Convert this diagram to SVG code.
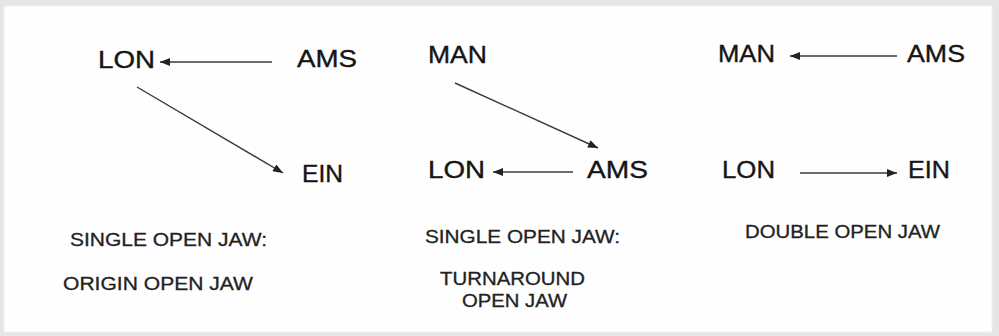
<svg xmlns="http://www.w3.org/2000/svg" width="999" height="336" viewBox="0 0 999 336">
<defs>
<style>
.big{font-family:"Liberation Sans",Arial,sans-serif;font-size:23px;fill:#151515;stroke:#151515;stroke-width:0.35;}
.small{font-family:"Liberation Sans",Arial,sans-serif;font-size:18.5px;fill:#222;stroke:#222;stroke-width:0.3;}
.edge{stroke:#3a3a3a;stroke-width:1.4;fill:none;marker-end:url(#ah);}
</style>
<marker id="ah" viewBox="0 0 10 8" refX="10" refY="4" markerWidth="11" markerHeight="8" markerUnits="userSpaceOnUse" orient="auto">
<path d="M0,0 L10,4 L0,8 Z" fill="#222"/>
</marker>
</defs>
<rect x="0" y="0" width="999" height="336" fill="#e4e6e7"/>
<rect x="4" y="6" width="988" height="326" fill="#fefefe" stroke="#f0f0f0" stroke-width="1"/>

<g id="connectors">
<line class="edge" x1="272" y1="62" x2="160" y2="62"/>
<line class="edge" x1="137" y1="87" x2="283" y2="173"/>
<line class="edge" x1="455" y1="83" x2="598" y2="148"/>
<line class="edge" x1="573" y1="172" x2="493" y2="172"/>
<line class="edge" x1="897" y1="56" x2="790" y2="56"/>
<line class="edge" x1="800" y1="173" x2="897" y2="173"/>
</g>

<g id="p1-lon"><text class="big" x="98" y="68" textLength="57" lengthAdjust="spacingAndGlyphs">LON</text></g>
<g id="p1-ams"><text class="big" x="297" y="67" textLength="60" lengthAdjust="spacingAndGlyphs">AMS</text></g>
<g id="p1-ein"><text class="big" x="302" y="182" textLength="41" lengthAdjust="spacingAndGlyphs">EIN</text></g>

<g id="p2-man"><text class="big" x="428" y="63" textLength="59" lengthAdjust="spacingAndGlyphs">MAN</text></g>
<g id="p2-lon"><text class="big" x="428" y="178" textLength="57" lengthAdjust="spacingAndGlyphs">LON</text></g>
<g id="p2-ams"><text class="big" x="587" y="178" textLength="61" lengthAdjust="spacingAndGlyphs">AMS</text></g>

<g id="p3-man"><text class="big" x="718" y="62" textLength="57" lengthAdjust="spacingAndGlyphs">MAN</text></g>
<g id="p3-ams"><text class="big" x="907" y="62" textLength="58" lengthAdjust="spacingAndGlyphs">AMS</text></g>
<g id="p3-lon"><text class="big" x="722" y="178" textLength="53" lengthAdjust="spacingAndGlyphs">LON</text></g>
<g id="p3-ein"><text class="big" x="908" y="178" textLength="42" lengthAdjust="spacingAndGlyphs">EIN</text></g>

<g id="caption1">
<text class="small" x="70" y="246" textLength="197" lengthAdjust="spacingAndGlyphs">SINGLE OPEN JAW:</text>
<text class="small" x="63" y="290" textLength="190" lengthAdjust="spacingAndGlyphs">ORIGIN OPEN JAW</text>
</g>
<g id="caption2">
<text class="small" x="425" y="243" textLength="195" lengthAdjust="spacingAndGlyphs">SINGLE OPEN JAW:</text>
<text class="small" x="440" y="285" textLength="145" lengthAdjust="spacingAndGlyphs">TURNAROUND</text>
<text class="small" x="462" y="307" textLength="105" lengthAdjust="spacingAndGlyphs">OPEN JAW</text>
</g>
<g id="caption3">
<text class="small" x="745" y="238" textLength="195" lengthAdjust="spacingAndGlyphs">DOUBLE OPEN JAW</text>
</g>
</svg>
